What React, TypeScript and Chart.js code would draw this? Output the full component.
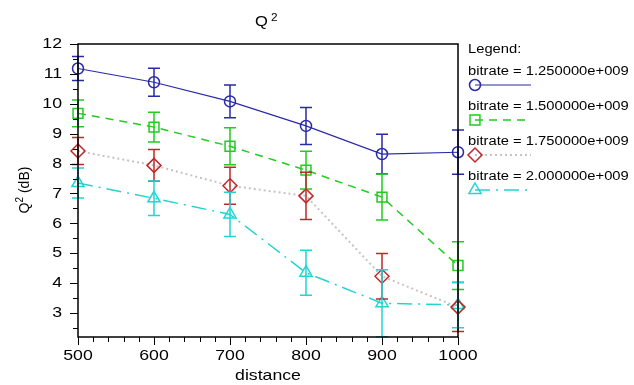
import React, { useEffect, useRef } from "react";
import { Chart, registerables } from "chart.js";
Chart.register(...registerables);

const distances = [500, 600, 700, 800, 900, 1000];
const q1250 = [11.18, 10.72, 10.08, 9.26, 8.32, 8.38];
const e1250 = [0.4, 0.47, 0.55, 0.62, 0.66, 0.74];
const q1500 = [9.68, 9.22, 8.58, 7.78, 6.88, 4.59];
const e1500 = [0.45, 0.5, 0.62, 0.63, 0.77, 0.8];
const q1750 = [8.42, 7.94, 7.26, 6.92, 4.23, 3.2];
const e1750 = [0.45, 0.53, 0.62, 0.79, 0.76, 0.82];
const q2000 = [7.35, 6.84, 6.3, 4.35, 3.33, 3.27];
const e2000 = [0.5, 0.58, 0.74, 0.75, 1.12, 0.76];
const seriesLabels = [
  "bitrate = 1.250000e+009",
  "bitrate = 1.500000e+009",
  "bitrate = 1.750000e+009",
  "bitrate = 2.000000e+009",
];
const xTicks = [500, 600, 700, 800, 900, 1000];
const yTicks = [3, 4, 5, 6, 7, 8, 9, 10, 11, 12];
const xMinorStep = 20;
const yMinorStep = 0.5;
const yMin = 2.2;
const yMax = 12;

const FONT = '"Liberation Sans", Arial, sans-serif';
const SX = 1.18;

type Style = {
  color: string;
  lineColor: string;
  dash: number[];
  point: string;
  radius: number;
  lineWidth: number;
};
const styles: Style[] = [
  { color: "#2a2aa8", lineColor: "#2a2aa8", dash: [], point: "circle", radius: 5.5, lineWidth: 1.2 },
  { color: "#22cc22", lineColor: "#22cc22", dash: [8, 6], point: "rect", radius: 7, lineWidth: 1.5 },
  { color: "#c02828", lineColor: "#c8c2c2", dash: [2, 3], point: "rectRot", radius: 7, lineWidth: 2 },
  { color: "#22d4d4", lineColor: "#22d4d4", dash: [15, 6, 2, 6], point: "triangle", radius: 7, lineWidth: 1.5 },
];
const values = [q1250, q1500, q1750, q2000];
const errors = [e1250, e1500, e1750, e2000];

function sText(ctx: CanvasRenderingContext2D, text: string, x: number, y: number, size: number, align: string, sx = SX) {
  ctx.save();
  ctx.font = `${size}px ${FONT}`;
  ctx.textBaseline = "middle";
  ctx.textAlign = "left";
  const w = ctx.measureText(text).width * sx;
  const left = align === "center" ? x - w / 2 : align === "right" ? x - w : x;
  ctx.translate(left, y);
  ctx.scale(sx, 1);
  ctx.fillStyle = "#000";
  ctx.fillText(text, 0, 0);
  ctx.restore();
}

function drawMarker(ctx: CanvasRenderingContext2D, style: string, x: number, y: number, r: number) {
  ctx.beginPath();
  if (style === "circle") {
    ctx.arc(x, y, r, 0, Math.PI * 2);
  } else if (style === "rect") {
    const h = r * Math.SQRT1_2;
    ctx.rect(x - h, y - h, 2 * h, 2 * h);
  } else if (style === "rectRot") {
    ctx.moveTo(x - r, y);
    ctx.lineTo(x, y - r);
    ctx.lineTo(x + r, y);
    ctx.lineTo(x, y + r);
    ctx.closePath();
  } else if (style === "triangle") {
    ctx.moveTo(x, y - r);
    ctx.lineTo(x + 0.866 * r, y + 0.5 * r);
    ctx.lineTo(x - 0.866 * r, y + 0.5 * r);
    ctx.closePath();
  }
  ctx.stroke();
}

const decorPlugin = {
  id: "decor",
  afterDatasetsDraw(chart: any) {
    const ctx: CanvasRenderingContext2D = chart.ctx;
    const xs = chart.scales.x;
    const ys = chart.scales.y;
    const a = chart.chartArea;
    ctx.save();
    ctx.beginPath();
    ctx.rect(0, a.top - 1, chart.width, a.bottom - a.top + 2);
    ctx.clip();
    values.forEach((vals, si) => {
      const st = styles[si];
      ctx.strokeStyle = st.color;
      ctx.lineWidth = 1.5;
      ctx.setLineDash([]);
      vals.forEach((v, i) => {
        const px = xs.getPixelForValue(distances[i]);
        const top = ys.getPixelForValue(v + errors[si][i]);
        const bot = ys.getPixelForValue(v - errors[si][i]);
        ctx.beginPath();
        ctx.moveTo(px, top);
        ctx.lineTo(px, bot);
        ctx.moveTo(px - 6, top);
        ctx.lineTo(px + 6, top);
        ctx.moveTo(px - 6, bot);
        ctx.lineTo(px + 6, bot);
        ctx.stroke();
      });
    });
    ctx.restore();
  },
  afterDraw(chart: any) {
    const ctx: CanvasRenderingContext2D = chart.ctx;
    const xs = chart.scales.x;
    const ys = chart.scales.y;
    const a = chart.chartArea;
    ctx.save();
    ctx.setLineDash([]);
    ctx.strokeStyle = "#000";
    ctx.lineWidth = 1.5;
    ctx.strokeRect(a.left, a.top, a.right - a.left, a.bottom - a.top);
    ctx.lineWidth = 1;
    ctx.beginPath();
    for (let v = xTicks[0]; v <= xTicks[xTicks.length - 1] + 1e-6; v += xMinorStep) {
      const px = Math.round(xs.getPixelForValue(v)) + 0.5;
      const major = xTicks.some((t) => Math.abs(t - v) < 1e-6);
      ctx.moveTo(px, a.bottom);
      ctx.lineTo(px, a.bottom + (major ? 8 : 5));
    }
    for (let v = yTicks[0] - yMinorStep; v <= yMax + 1e-6; v += yMinorStep) {
      if (v < yMin) continue;
      const py = Math.round(ys.getPixelForValue(v)) + 0.5;
      const major = yTicks.some((t) => Math.abs(t - v) < 1e-6);
      ctx.moveTo(a.left, py);
      ctx.lineTo(a.left - (major ? 8 : 5), py);
    }
    ctx.stroke();
    xTicks.forEach((t) => sText(ctx, String(t), xs.getPixelForValue(t), 356, 15, "center"));
    yTicks.forEach((t) => sText(ctx, String(t), 62, ys.getPixelForValue(t), 15, "right"));
    sText(ctx, "distance", (a.left + a.right) / 2, 376, 15, "center");
    // title Q^2
    sText(ctx, "Q", 255, 22, 14, "left");
    sText(ctx, "2", 271, 18, 10, "left");
    // y axis title
    ctx.save();
    ctx.translate(25, 190);
    ctx.rotate(-Math.PI / 2);
    ctx.font = `14px ${FONT}`;
    ctx.fillStyle = "#000";
    ctx.textBaseline = "middle";
    ctx.textAlign = "left";
    const wQ = ctx.measureText("Q").width;
    ctx.font = `10px ${FONT}`;
    const w2 = ctx.measureText("2").width;
    ctx.font = `14px ${FONT}`;
    const wR = ctx.measureText(" (dB)").width;
    const total = wQ + w2 + wR;
    let cx = -total / 2;
    ctx.fillText("Q", cx, 0);
    cx += wQ;
    ctx.font = `10px ${FONT}`;
    ctx.fillText("2", cx, -5);
    cx += w2;
    ctx.font = `14px ${FONT}`;
    ctx.fillText(" (dB)", cx, 0);
    ctx.restore();
    // legend
    sText(ctx, "Legend:", 468, 50, 12.5, "left");
    seriesLabels.forEach((lab, i) => {
      const ty = 71.5 + i * 35;
      const ly = 85 + i * 35;
      sText(ctx, lab, 468, ty, 12.5, "left");
      const st = styles[i];
      ctx.strokeStyle = st.lineColor;
      ctx.lineWidth = st.lineWidth;
      ctx.setLineDash(st.dash);
      ctx.beginPath();
      ctx.moveTo(475, ly);
      ctx.lineTo(531, ly);
      ctx.stroke();
      ctx.setLineDash([]);
      ctx.strokeStyle = st.color;
      ctx.lineWidth = 1.5;
      drawMarker(ctx, st.point, 475, ly, st.radius);
    });
    ctx.restore();
  },
};

export default function App() {
  const ref = useRef<HTMLCanvasElement | null>(null);
  useEffect(() => {
    if (!ref.current) return;
    const chart = new Chart(ref.current, {
      type: "line",
      data: {
        datasets: values.map((vals, si) => ({
          label: seriesLabels[si],
          data: vals.map((v, i) => ({ x: distances[i], y: v })),
          borderColor: styles[si].lineColor,
          borderWidth: styles[si].lineWidth,
          borderDash: styles[si].dash,
          pointStyle: styles[si].point as any,
          pointRadius: styles[si].radius,
          pointBorderColor: styles[si].color,
          pointBackgroundColor: "rgba(0,0,0,0)",
          pointBorderWidth: 1.5,
          tension: 0,
          fill: false,
          clip: false as any,
        })),
      },
      options: {
        animation: false,
        responsive: false,
        devicePixelRatio: 1,
        layout: { padding: { left: 78, top: 44, right: 176, bottom: 48 } },
        scales: {
          x: { type: "linear", min: 500, max: 1000, display: false },
          y: { type: "linear", min: yMin, max: yMax, display: false },
        },
        plugins: { legend: { display: false }, title: { display: false }, tooltip: { enabled: false } },
      },
      plugins: [decorPlugin],
    });
    return () => chart.destroy();
  }, []);
  return (
    <div style={{ position: "fixed", left: 0, top: 0, width: 634, height: 385, background: "#fff" }}>
      <canvas ref={ref} width={634} height={385} style={{ width: 634, height: 385 }} />
    </div>
  );
}
